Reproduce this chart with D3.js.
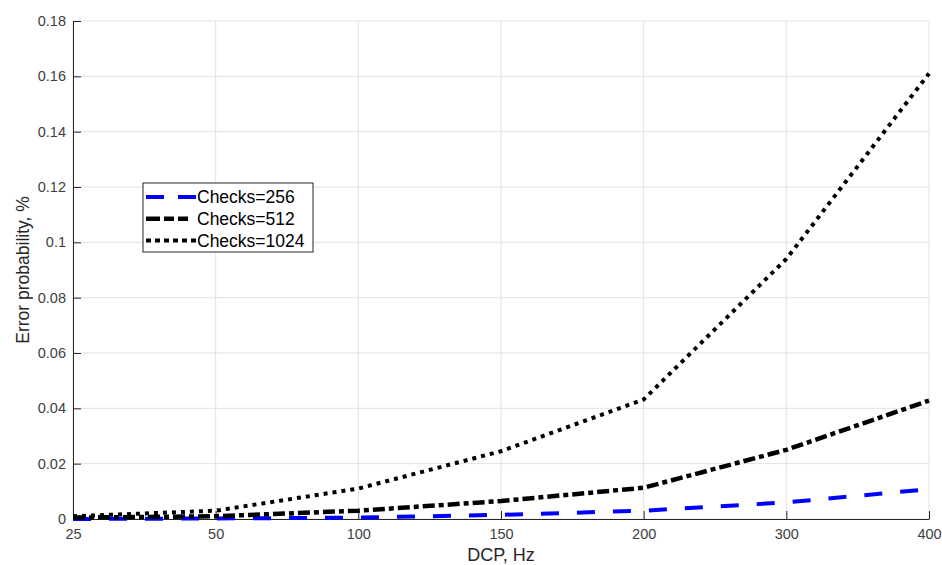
<!DOCTYPE html>
<html>
<head>
<meta charset="utf-8">
<script src="https://cdn.jsdelivr.net/npm/d3@7"></script>
<style>
  body { margin: 0; background: #fff; }
  svg { font-family: "Liberation Sans", Arial, sans-serif; }
</style>
</head>
<body>
<div id="vis"></div>
<script>
// Data
const DCP = ["25", "50", "100", "150", "200", "300", "400"];
const CHECKS_256 = [0.0000, 0.0002, 0.0005, 0.0015, 0.0030, 0.0060, 0.0108];
const CHECKS_512 = [0.0005, 0.0010, 0.0030, 0.0065, 0.0113, 0.0250, 0.0428];
const CHECKS_1024 = [0.0010, 0.0030, 0.0110, 0.0245, 0.0432, 0.0940, 0.1610];
const Y_TICKS = [0, 0.02, 0.04, 0.06, 0.08, 0.1, 0.12, 0.14, 0.16, 0.18];
const SERIES_NAMES = ["Checks=256", "Checks=512", "Checks=1024"];

// Frame
const FRAME_WIDTH = 942;
const FRAME_HEIGHT = 565;
const MARGINS = { left: 73, right: 13, top: 21, bottom: 46 };
const VIS_WIDTH = FRAME_WIDTH - MARGINS.left - MARGINS.right;
const VIS_HEIGHT = FRAME_HEIGHT - MARGINS.top - MARGINS.bottom;

const FRAME = d3.select("#vis")
    .append("svg")
    .attr("width", FRAME_WIDTH)
    .attr("height", FRAME_HEIGHT);

const G = FRAME.append("g")
    .attr("transform", "translate(" + MARGINS.left + "," + MARGINS.top + ")");

// scales
const X_SCALE = d3.scalePoint()
    .domain(DCP)
    .range([0, VIS_WIDTH]);

const Y_SCALE = d3.scaleLinear()
    .domain([0, 0.18])
    .range([VIS_HEIGHT, 0]);

// grid
G.append("g")
    .selectAll("line")
    .data(DCP)
    .enter()
    .append("line")
    .attr("x1", d => X_SCALE(d)).attr("x2", d => X_SCALE(d))
    .attr("y1", 0).attr("y2", VIS_HEIGHT)
    .attr("stroke", "#e2e2e2").attr("stroke-width", 1);

G.append("g")
    .selectAll("line")
    .data(Y_TICKS)
    .enter()
    .append("line")
    .attr("x1", 0).attr("x2", VIS_WIDTH)
    .attr("y1", d => Y_SCALE(d)).attr("y2", d => Y_SCALE(d))
    .attr("stroke", "#e2e2e2").attr("stroke-width", 1);

// axes (ticks pointing inward)
const xAxis = G.append("g")
    .attr("transform", "translate(0," + VIS_HEIGHT + ")")
    .call(d3.axisBottom(X_SCALE).tickSizeInner(-8).tickSizeOuter(0));

const yAxis = G.append("g")
    .call(d3.axisLeft(Y_SCALE).tickValues(Y_TICKS).tickFormat(d => d3.format("")(+d.toFixed(2)))
        .tickSizeInner(-8).tickSizeOuter(0).tickPadding(7));

[xAxis, yAxis].forEach(ax => {
    ax.select(".domain").attr("stroke", "#262626").attr("stroke-width", 1);
    ax.selectAll(".tick line").attr("stroke", "#262626");
    ax.selectAll("text")
        .attr("fill", "#404040")
        .attr("font-size", "14.5px")
        .attr("font-family", "Liberation Sans, Arial, sans-serif");
});
xAxis.selectAll("text").attr("dy", "0").attr("y", 20);

// line styles
const STYLES = [
    { color: "#0000ff", width: 4, dash: "18,18" },
    { color: "#000000", width: 4.5, dash: "12,4,5,4" },
    { color: "#000000", width: 4, dash: "4,5" }
];
const ALL = [CHECKS_256, CHECKS_512, CHECKS_1024];

const line = d3.line()
    .x((d, i) => X_SCALE(DCP[i]))
    .y(d => Y_SCALE(d));

const plot = G.append("g");
ALL.forEach((vals, k) => {
    plot.append("path")
        .datum(vals)
        .attr("d", line)
        .attr("fill", "none")
        .attr("stroke", STYLES[k].color)
        .attr("stroke-width", STYLES[k].width)
        .attr("stroke-dasharray", STYLES[k].dash);
});

// axis labels
FRAME.append("text")
    .attr("x", MARGINS.left + VIS_WIDTH / 2)
    .attr("y", 561)
    .attr("text-anchor", "middle")
    .attr("font-size", "18px")
    .attr("fill", "#262626")
    .text("DCP, Hz");

FRAME.append("text")
    .attr("transform", "translate(29," + (MARGINS.top + VIS_HEIGHT / 2) + ") rotate(-90)")
    .attr("text-anchor", "middle")
    .attr("font-size", "17.5px")
    .attr("fill", "#262626")
    .text("Error probability, %");

// legend
const LEG = FRAME.append("g").attr("transform", "translate(143,183)");
LEG.append("rect")
    .attr("width", 170).attr("height", 69)
    .attr("fill", "#fff")
    .attr("stroke", "#262626").attr("stroke-width", 1);

SERIES_NAMES.forEach((name, k) => {
    const yy = 14 + k * 21.7;
    LEG.append("line")
        .attr("x1", 3).attr("x2", 53)
        .attr("y1", yy).attr("y2", yy)
        .attr("stroke", STYLES[k].color)
        .attr("stroke-width", STYLES[k].width)
        .attr("stroke-dasharray", k === 0 ? "18,14" : (k === 1 ? "14,4,10,4,10" : "5,4"));
    LEG.append("text")
        .attr("x", 54)
        .attr("y", yy)
        .attr("dy", "0.35em")
        .attr("font-size", "17.5px")
        .attr("fill", "#000")
        .text(name);
});
</script>
</body>
</html>
